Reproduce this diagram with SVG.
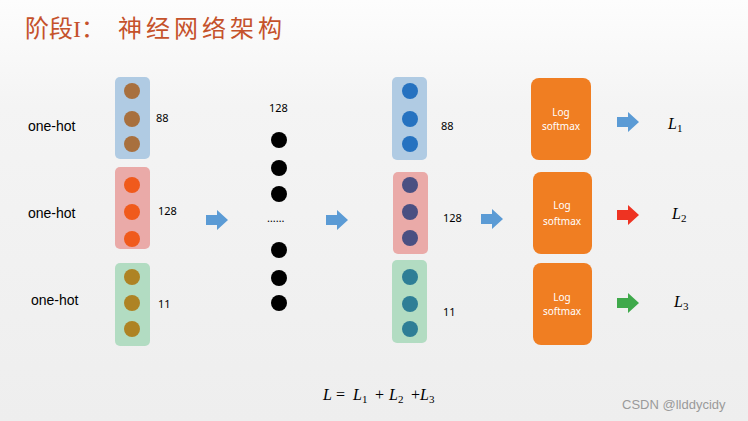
<svg xmlns="http://www.w3.org/2000/svg" width="748" height="421" viewBox="0 0 748 421">
<defs>
<linearGradient id="bg" x1="0" y1="0" x2="0" y2="1">
<stop offset="0" stop-color="#fdfdfd"/>
<stop offset="0.25" stop-color="#f4f4f4"/>
<stop offset="1" stop-color="#eeeeee"/>
</linearGradient>
<path id="barrow" d="M0,-5 H11 V-10 L22,0 L11,10 V5 H0 Z"/>
</defs>
<style>
.lbl{font-family:"Liberation Sans",Arial,sans-serif;font-size:14px;fill:#000}
.num{font-family:"Noto Sans","Liberation Sans",sans-serif;font-size:11px;fill:#000}
.box{font-family:"Noto Sans","Liberation Sans",sans-serif;font-size:10px;fill:#fff;text-anchor:middle}
.math{font-family:"Liberation Serif","Times New Roman",serif;font-size:16px;font-style:italic;fill:#000}
.op{font-family:"Liberation Serif","Times New Roman",serif;font-size:16px;fill:#000}
.sub{font-family:"Liberation Serif","Times New Roman",serif;font-size:11px;fill:#000}
.blueR{fill:#b0cbe3}.redR{fill:#eaaaa8}.greenR{fill:#b2dcc2}
.orange{fill:#f07e22}
</style>
<rect width="748" height="421" fill="url(#bg)"/>
<g id="title">
<text x="25" y="37" font-family="Noto Sans CJK SC,sans-serif" font-size="24" fill="#c5522b">阶段<tspan font-family="Liberation Serif,serif">I</tspan>：</text>
<text x="118" y="37" font-family="Noto Sans CJK SC,sans-serif" font-size="24" letter-spacing="4" fill="#c5522b">神经网络架构</text>
</g>
<g id="input-labels">
<text class="lbl" x="28" y="131">one-hot</text>
<text class="lbl" x="28" y="218">one-hot</text>
<text class="lbl" x="31" y="305">one-hot</text>
</g>
<g id="input-88">
<rect class="blueR" x="115" y="77" width="35" height="82" rx="5"/>
<circle cx="132" cy="91" r="8" fill="#a8703e"/>
<circle cx="132" cy="119" r="8" fill="#a8703e"/>
<circle cx="132" cy="144" r="8" fill="#a8703e"/>
<text class="num" x="156" y="122">88</text>
</g>
<g id="input-128">
<rect class="redR" x="115" y="167" width="35" height="82" rx="5"/>
<circle cx="132" cy="185" r="8" fill="#f05a1c"/>
<circle cx="132" cy="212" r="8" fill="#f05a1c"/>
<circle cx="132" cy="239" r="8" fill="#f05a1c"/>
<text class="num" x="158" y="215">128</text>
</g>
<g id="input-11">
<rect class="greenR" x="115" y="263" width="35" height="83" rx="5"/>
<circle cx="132" cy="277" r="8" fill="#ae8324"/>
<circle cx="132" cy="303" r="8" fill="#ae8324"/>
<circle cx="132" cy="329" r="8" fill="#ae8324"/>
<text class="num" x="158" y="308">11</text>
</g>
<g id="hidden">
<text class="num" x="269" y="112">128</text>
<circle cx="279" cy="140" r="8" fill="#000"/>
<circle cx="279" cy="168" r="8" fill="#000"/>
<circle cx="279" cy="194" r="8" fill="#000"/>
<text class="num" x="267" y="222" font-size="11">……</text>
<circle cx="279" cy="250" r="8" fill="#000"/>
<circle cx="279" cy="278" r="8" fill="#000"/>
<circle cx="279" cy="303" r="8" fill="#000"/>
</g>
<g id="output-88">
<rect class="blueR" x="392" y="77" width="35" height="83" rx="5"/>
<circle cx="410" cy="91" r="8" fill="#2672c0"/>
<circle cx="410" cy="119" r="8" fill="#2672c0"/>
<circle cx="410" cy="144" r="8" fill="#2672c0"/>
<text class="num" x="441" y="130">88</text>
</g>
<g id="output-128">
<rect class="redR" x="393" y="172" width="35" height="82" rx="5"/>
<circle cx="410" cy="185" r="8" fill="#4a5082"/>
<circle cx="410" cy="212" r="8" fill="#4a5082"/>
<circle cx="410" cy="238" r="8" fill="#4a5082"/>
<text class="num" x="443" y="222">128</text>
</g>
<g id="output-11">
<rect class="greenR" x="392" y="260" width="35" height="83" rx="5"/>
<circle cx="410" cy="277" r="8" fill="#2e7e96"/>
<circle cx="410" cy="304" r="8" fill="#2e7e96"/>
<circle cx="410" cy="329" r="8" fill="#2e7e96"/>
<text class="num" x="443" y="316">11</text>
</g>
<g id="softmax-1">
<rect class="orange" x="531" y="78" width="60" height="82" rx="8"/>
<text class="box" x="561" y="116">Log</text>
<text class="box" x="561" y="130">softmax</text>
</g>
<g id="softmax-2">
<rect class="orange" x="533" y="172" width="59" height="82" rx="8"/>
<text class="box" x="562" y="209">Log</text>
<text class="box" x="562" y="225">softmax</text>
</g>
<g id="softmax-3">
<rect class="orange" x="533" y="263" width="59" height="82" rx="8"/>
<text class="box" x="562" y="301">Log</text>
<text class="box" x="562" y="315">softmax</text>
</g>
<g id="losses">
<text class="math" x="668" y="129">L</text><text class="sub" x="677" y="132">1</text>
<text class="math" x="672" y="219">L</text><text class="sub" x="681" y="222">2</text>
<text class="math" x="674" y="307">L</text><text class="sub" x="683" y="310">3</text>
</g>
<g id="connectors">
<use href="#barrow" x="206" y="220" fill="#5b9bd5"/>
<use href="#barrow" x="326" y="220" fill="#5b9bd5"/>
<use href="#barrow" x="481" y="219" fill="#5b9bd5"/>
<use href="#barrow" x="617" y="122" fill="#5b9bd5"/>
<use href="#barrow" x="617" y="215" fill="#ee3322"/>
<use href="#barrow" x="617" y="303" fill="#3fa94b"/>
</g>
<g id="formula">
<text class="math" x="323" y="400">L</text>
<text class="op" x="336" y="400">=</text>
<text class="math" x="353" y="400">L</text><text class="sub" x="362" y="403">1</text>
<text class="op" x="375" y="400">+</text>
<text class="math" x="389" y="400">L</text><text class="sub" x="398" y="403">2</text>
<text class="op" x="411" y="400">+</text>
<text class="math" x="420" y="400">L</text><text class="sub" x="429" y="403">3</text>
</g>
<text x="622" y="409" font-family="Liberation Sans,Arial,sans-serif" font-size="13" fill="#9a9a9a">CSDN @llddycidy</text>
</svg>
